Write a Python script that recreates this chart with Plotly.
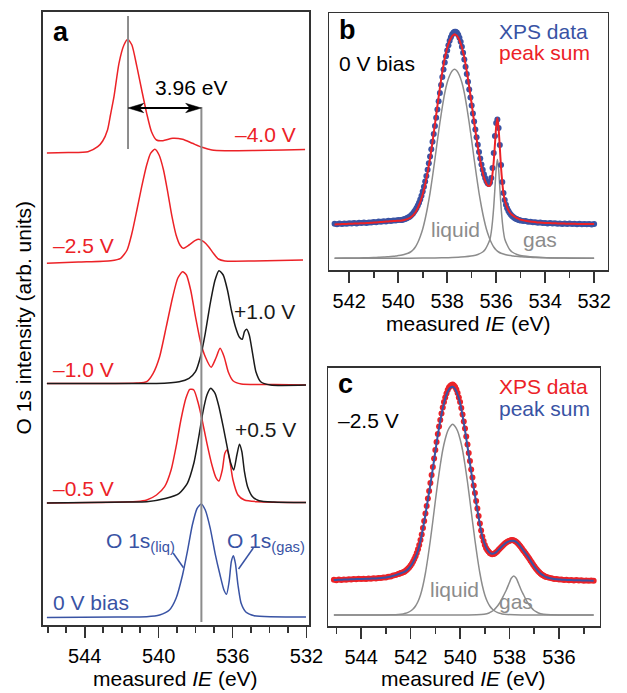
import numpy as np
import plotly.graph_objects as go

W, H = 627, 693
FONT = "Liberation Sans, Arial, sans-serif"
RED = "#ec2227"
BLUE = "#3953a4"
BLACK = "#1a1a1a"
GRAY = "#8c8c8c"
AXC = "#333333"

# ---------------- Panel a : stacked O 1s spectra (intensity above own baseline) -------------
a_labels = ["\u20134.0 V", "\u20132.5 V", "\u20131.0 V", "+1.0 V", "\u20130.5 V", "+0.5 V", "0 V bias"]
a_offsets = [474, 363, 241, 241, 122.5, 122.5, 8]

E_m40 = [546.05, 544.90, 543.83, 543.30, 543.03, 542.77, 542.61, 542.42, 542.15, 541.88, 541.67, 541.45,
         541.18, 540.92, 540.65, 540.39, 540.12, 539.77, 539.24, 538.71, 538.18, 537.65, 537.12, 536.42,
         534.83, 533.24, 532.08]
I_m40 = [-2, -1.5, -0.7, 4.3, 10, 21, 36, 54.3, 87.7, 106, 111.7, 106, 84.3, 61, 37.7, 19.3, 11, 10.3,
         12.7, 11.7, 7.7, 3.7, 1, 0.3, 0.5, 1, 1.5]

E_m25 = [546.05, 544.35, 542.59, 542.06, 541.71, 541.45, 541.18, 540.92, 540.65, 540.44, 540.21, 539.98,
         539.74, 539.50, 539.28, 539.06, 538.85, 538.68, 538.36, 538.04, 537.83, 537.57, 537.30, 537.04,
         536.77, 536.42, 534.83, 532.19]
I_m25 = [-1.3, 0, 1.3, 3.7, 12, 28.7, 52, 75.3, 97, 108.7, 112.7, 107, 92, 68.7, 45.3, 27, 17, 13.7, 17,
         21.3, 22.7, 20.3, 15.3, 8.7, 3, 1, 1, 2]

E_m10 = [546.05, 543.30, 541.18, 540.65, 540.30, 539.95, 539.59, 539.24, 538.97, 538.71, 538.50, 538.27,
         538.01, 537.74, 537.48, 537.16, 536.91, 536.68, 536.46, 536.24, 535.98, 535.53, 533.77, 532.03]
I_m10 = [0.5, 0.5, 1, 2.3, 10.7, 27.3, 57.3, 87.3, 105.7, 112.3, 109, 94, 67.3, 42.3, 27.3, 16.7, 25.7,
         35.7, 27.3, 12.3, 3.3, 0, -0.5, -1]

E_p10 = [546.05, 542.24, 540.12, 538.89, 538.36, 538.01, 537.74, 537.48, 537.21, 536.95, 536.74, 536.51,
         536.28, 536.07, 535.85, 535.63, 535.48, 535.36, 535.24, 535.10, 534.92, 534.74, 534.48, 533.95,
         532.03]
I_p10 = [0.5, 0.5, 0.5, 2.3, 5.7, 12.3, 27.3, 50.7, 80.7, 104, 113.3, 109, 94, 74, 57.3, 46.7, 44.7, 52.3,
         54.7, 49, 30.7, 12.3, 2.3, -1, -1]

E_m05 = [546.05, 543.30, 541.18, 540.65, 540.12, 539.68, 539.33, 539.06, 538.80, 538.53, 538.32, 538.10,
         537.86, 537.65, 537.39, 537.12, 536.91, 536.74, 536.56, 536.42, 536.30, 536.16, 535.98, 535.71,
         535.36, 534.66, 532.03]
I_m05 = [-0.5, 0, 1, 2.5, 7.5, 15.8, 32.5, 55.8, 82.5, 104.2, 113.2, 112.5, 99.2, 82.5, 59.2, 37.5, 25.2,
         21.5, 32.5, 49.2, 52.5, 42.5, 22.5, 7.5, 2.5, 0.8, 0]

E_p05 = [546.05, 541.71, 540.65, 539.59, 538.89, 538.45, 538.10, 537.83, 537.62, 537.39, 537.18, 536.95,
         536.74, 536.51, 536.28, 536.10, 535.94, 535.77, 535.63, 535.50, 535.36, 535.19, 534.92, 534.57,
         533.77, 532.03]
I_p05 = [-0.5, 0.5, 0.8, 4.2, 9.2, 19.2, 39.2, 65.8, 89.2, 107.5, 114.2, 109.2, 95.8, 75.8, 54.2, 39.2,
         32.5, 47.5, 58.2, 50.8, 30.8, 15.8, 5.8, 1.8, 0.5, 0]

E_0 = [546.05, 542.24, 540.65, 539.95, 539.42, 539.06, 538.71, 538.45, 538.18, 537.92, 537.70, 537.48,
       537.21, 536.95, 536.68, 536.47, 536.33, 536.19, 536.07, 535.96, 535.85, 535.71, 535.54, 535.27,
       534.83, 532.03]
I_0 = [-0.5, 0, 0.3, 2, 7, 18.7, 42, 65.3, 92, 108.7, 113, 107, 88.7, 63.7, 42, 27, 22.7, 35.3, 55.3,
       61.3, 53.7, 32, 13.7, 4.7, 1.3, 0]

a_E = [E_m40, E_m25, E_m10, E_p10, E_m05, E_p05, E_0]
a_I = [I_m40, I_m25, I_m10, I_p10, I_m05, I_p05, I_0]
a_colors = [RED, RED, RED, BLACK, RED, BLACK, BLUE]

liq_peak_m40 = 541.66   # liquid peak at -4.0 V
liq_peak_0 = 537.69     # liquid peak at 0 V
shift_label = "3.96 eV"

# ---------------- Panel b : 0 V bias fit ----------------
b_data_left = [46.3, 45.8, 46.4, 46.0, 46.5, 46.2, 46.8, 46.4, 46.9, 46.6, 47.2, 46.9, 47.4, 47.1, 47.6,
               47.4, 48.0, 47.8, 48.4, 48.3, 48.8, 48.6, 49.2, 49.1, 49.6, 49.5, 50.0, 50.1]
b_data_mid = [50.0, 50.4, 50.8, 51.3, 51.8, 52.4, 53.1, 54.0, 55.2, 56.6, 58.2, 60.0, 62.0, 64.5, 67.3, 70.5, 74.2, 78.5,
              83.2, 88.5, 94.0, 100.3, 106.8, 113.5, 120.8, 128.3, 136.0, 144.0, 152.2, 160.5, 168.8, 177.0, 185.0, 193.0, 200.5, 207.5, 213.8, 219.5,
              224.8, 229.3, 232.8, 235.5, 237.3, 238.3, 238.3, 237.3, 235.3, 232.3, 228.3, 223.3, 217.3, 210.5, 203.3, 196.0, 188.3, 180.5, 172.5, 164.5,
              156.5, 148.5, 140.5, 132.8, 125.3, 118.0, 111.5, 105.5, 100.3, 95.8, 92.0, 89.0, 86.8, 86.0, 87.5, 92.0, 102.0, 117.0, 134.0, 147.0,
              150.5, 142.0, 125.0, 105.0, 88.0, 77.0, 70.0, 65.3, 61.8, 59.0, 57.0, 55.3, 54.0, 52.9, 52.0, 51.3, 50.7, 50.2, 49.8]
b_data_right = [49.6, 49.0, 48.9, 48.3, 48.3, 47.7, 47.8, 47.2, 47.4, 46.9, 47.1, 46.6, 46.9, 46.4, 46.7,
                46.2, 46.6, 46.1, 46.5, 46.0, 46.4, 45.9, 46.3, 45.8, 46.2, 45.7, 46.1, 45.7, 46.0, 45.6, 45.9]

b_sum_left = [45.6, 45.7, 45.8, 45.9, 46.0, 46.1, 46.2, 46.3, 46.4, 46.5, 46.6, 46.7, 46.8, 46.9, 47.0,
              47.2, 47.4, 47.6, 47.8, 48.0, 48.2, 48.4, 48.6, 48.8, 49.0, 49.1, 49.2, 49.3]
b_sum_mid = [49.45, 49.7, 50.05, 50.4, 50.8, 51.2, 51.8, 52.4, 53.4, 54.5, 56.0, 57.5, 59.7, 62.0, 65.0, 68.0, 71.7, 75.5,
             80.5, 85.5, 91.5, 97.6, 104.6, 111.6, 119.8, 128.1, 136.9, 145.7, 155.0, 164.2, 173.0, 181.7, 189.8, 197.8, 204.8, 211.8, 217.0, 222.3,
             225.8, 229.3, 231.6, 233.9, 235.0, 235.7, 235.2, 234.1, 232.2, 229.7, 226.3, 222.8, 217.7, 212.5, 205.6, 198.7, 190.9, 183.0, 174.5, 166.0,
             157.0, 148.0, 139.5, 131.1, 123.5, 115.9, 109.3, 103.0, 97.8, 92.8, 89.3, 86.2, 84.5, 84.0, 84.5, 88.0, 96.1, 108.5, 125.9, 143.5,
             152.1, 141.5, 121.9, 102.3, 87.4, 76.5, 70.0, 65.8, 62.5, 59.6, 57.7, 56.1, 55.1, 54.2, 53.3, 52.5, 51.9, 51.3, 50.8]
b_sum_right = [50.4, 49.8, 49.2, 48.8, 48.5, 48.2, 47.9, 47.6, 47.4, 47.2, 47.1, 47.0, 46.9, 46.8, 46.7,
               46.6, 46.5, 46.4, 46.4, 46.3, 46.3, 46.2, 46.2, 46.1, 46.1, 46.0, 46.0, 46.0, 45.9, 45.9, 45.9]

b_liq_E = [542.6, 542.2, 541.8, 541.4, 541.0, 540.8, 540.6, 540.4, 540.2,
           540.1, 540.0, 539.9, 539.8, 539.7, 539.6, 539.5, 539.4, 539.3, 539.2, 539.1, 539.0, 538.9, 538.8,
           538.7, 538.6, 538.5, 538.4, 538.3, 538.2, 538.1, 538.0, 537.9, 537.8, 537.7, 537.6, 537.5, 537.4,
           537.3, 537.2, 537.1, 537.0, 536.9, 536.8, 536.7, 536.6, 536.5, 536.4, 536.3, 536.2, 536.1, 536.0,
           535.9, 535.8, 535.7, 535.6, 535.5, 535.4, 535.3, 535.2,
           535.0, 534.8, 534.6, 534.4, 534.0, 533.6, 533.2, 532.8, 532.0]
b_liq_I = [11.8, 11.9, 12.0, 12.2, 12.5, 12.7, 12.9, 13.3, 13.7,
           14.0, 14.4, 14.8, 15.3, 16.0, 16.8, 18.0, 20.0, 23.0, 27.5, 33.5, 41.0, 51.0, 63.0,
           77.0, 93.5, 111.0, 129.5, 147.0, 163.0, 177.0, 187.5, 194.5, 199.0, 200.7, 199.0, 194.5, 187.5,
           177.0, 163.0, 147.0, 129.5, 111.0, 93.5, 77.0, 63.0, 51.0, 41.0, 33.5, 27.5, 23.0, 20.0,
           18.0, 16.8, 16.0, 15.3, 14.8, 14.4, 14.0, 13.7,
           13.3, 12.9, 12.7, 12.5, 12.2, 12.0, 11.9, 11.8, 11.8]
b_gas_E = [542.6, 540.0, 539.0, 538.5, 537.95, 537.45, 536.95, 536.75, 536.55, 536.45, 536.35, 536.25,
           536.2, 536.15, 536.1, 536.05, 536.0, 535.95, 535.9, 535.85, 535.8, 535.75, 535.7, 535.65,
           535.55, 535.45, 535.35, 535.15, 534.95, 534.45, 533.95, 533.0, 532.0]
b_gas_I = [11.7, 11.8, 11.9, 12.0, 12.3, 12.9, 14.2, 15.5, 18.0, 20.5, 25.0, 31.0, 38.0, 48.5, 63.0, 82.0,
           101.0, 110.7, 101.0, 82.0, 63.0, 48.5, 38.0, 31.0, 25.0, 20.5, 18.0, 15.5, 14.2, 12.9, 12.3,
           11.9, 11.7]

# ---------------- Panel c : -2.5 V fit ----------------
c_data_left = [46.2, 45.8, 46.4, 46.1, 46.6, 46.3, 46.8, 46.5, 47.0, 46.7, 47.2, 46.9, 47.3, 47.0, 47.5,
               47.2, 47.7, 47.4, 48.0, 47.9, 48.5, 48.4, 49.2, 49.4, 50.4, 50.9, 52.0]
c_data_mid = [52.3, 52.9, 53.2, 53.8, 54.2, 55.2, 56.2, 57.5, 58.8, 60.5,
              62.3, 64.5, 67.0, 69.8, 73.0, 76.8, 81.0, 86.0, 91.5, 98.0, 105.0, 112.5, 120.0, 127.5, 135.0, 143.0, 151.0, 159.0, 167.5, 176.0,
              184.0, 192.0, 199.5, 206.0, 212.5, 218.5, 224.0, 228.5, 232.5, 236.0, 238.5, 240.0, 241.0, 241.5, 240.5, 239.0, 236.5, 233.0, 228.5, 224.0,
              218.0, 211.5, 204.5, 197.5, 189.5, 181.5, 173.0, 165.0, 156.5, 148.5, 140.5, 133.0, 125.0, 117.5, 110.0, 102.5, 95.5, 89.5, 85.0, 81.0,
              78.0, 76.0, 74.5, 73.0, 72.2, 71.8, 72.0, 72.6, 73.5, 74.6, 76.0, 77.3, 78.5, 79.8, 81.0, 82.2, 83.2, 84.0, 84.8, 85.3,
              85.8, 86.0, 85.8, 85.3, 84.5, 83.5, 82.2, 80.8, 79.2, 77.5, 75.8, 74.2, 72.5, 70.8, 69.0, 67.2, 65.3, 63.5, 61.6, 59.8,
              58.0, 56.5, 55.0, 53.8, 52.6, 51.6, 50.7, 50.0, 49.3]
c_data_right = [48.9, 48.2, 47.7, 47.0, 46.9, 46.4, 46.5, 46.0, 46.3, 45.8, 46.0, 45.6, 45.9, 45.4, 45.7,
                45.3, 45.6, 45.2, 45.5, 45.3]

c_sum = [46.0, 46.1, 46.2, 46.3, 46.4, 46.5, 46.6, 46.7, 46.8, 46.9, 47.0, 47.0, 47.1, 47.2, 47.3, 47.4,
         47.5, 47.6, 47.8, 48.0, 48.3, 48.6, 49.0, 49.5, 50.2, 51.0, 51.8, 52.7, 53.6, 54.8, 57.0, 59.8,
         63.8, 68.8, 75.5, 85.0, 97.5, 111.5, 126.5, 141.5, 157.5, 174.5, 191.0, 205.0, 217.5, 227.5,
         234.5, 238.3, 239.3, 237.0, 231.5, 223.0, 210.5, 195.5, 179.5, 162.5, 146.0, 131.0, 116.0, 101.5,
         89.5, 81.5, 76.3, 73.3, 72.2, 72.8, 74.8, 77.3, 79.7, 82.0, 83.8, 84.9, 85.3, 85.0, 83.5, 80.8,
         77.5, 74.2, 70.8, 67.2, 63.3, 59.7, 56.5, 53.8, 51.6, 50.0, 48.8, 48.0, 47.4, 47.0, 46.7, 46.5,
         46.35, 46.2, 46.1, 46.0, 45.9, 45.8, 45.75, 45.7, 45.6, 45.5, 45.45, 45.4, 45.35, 45.3]

c_liq_E = [545.1, 543.3, 542.8, 542.5,
           542.3, 542.2, 542.1, 542.0, 541.9, 541.8, 541.7, 541.6, 541.5, 541.4, 541.3, 541.2, 541.1, 541.0,
           540.9, 540.8, 540.7, 540.6, 540.5, 540.4, 540.3, 540.2, 540.1, 540.0, 539.9, 539.8, 539.7, 539.6,
           539.5, 539.4, 539.3, 539.2, 539.1, 539.0, 538.9, 538.8, 538.7, 538.6, 538.5, 538.4, 538.3,
           538.1, 537.8, 537.3, 534.6]
c_liq_I = [11.0, 11.0, 11.2, 11.5,
           12.1, 12.7, 13.6, 15.0, 17.0, 20.0, 24.5, 31.0, 40.5, 53.0, 68.5, 86.0, 105.0, 125.0,
           144.0, 161.0, 176.0, 187.0, 195.0, 199.5, 201.7, 199.5, 195.0, 187.0, 176.0, 161.0, 144.0, 125.0,
           105.0, 86.0, 68.5, 53.0, 40.5, 31.0, 24.5, 20.0, 17.0, 15.0, 13.6, 12.7, 12.1,
           11.5, 11.2, 11.0, 11.0]
c_gas_E = [545.1, 539.83, 539.33, 539.03, 538.83, 538.73, 538.63, 538.53, 538.43, 538.33, 538.23, 538.13,
           538.03, 537.93, 537.83, 537.73, 537.63, 537.53, 537.43, 537.33, 537.23, 537.13, 537.03, 536.93,
           536.83, 536.63, 536.33, 535.83, 534.6]
c_gas_I = [11.0, 11.0, 11.2, 11.8, 13.0, 14.3, 16.0, 18.7, 22.0, 26.0, 31.0, 36.0, 42.0, 47.8, 50.0, 47.8,
           42.0, 36.0, 31.0, 26.0, 22.0, 18.7, 16.0, 14.3, 13.0, 11.8, 11.2, 11.0, 11.0]

# energy grids of the measured points
b_E = np.concatenate([np.linspace(542.6, 539.9, len(b_data_left)),
                      np.linspace(539.85, 535.05, len(b_data_mid)),
                      np.linspace(535.0, 532.0, len(b_data_right))])
c_E = np.concatenate([np.linspace(545.1, 542.5, len(c_data_left)),
                      np.linspace(542.45, 536.55, len(c_data_mid)),
                      np.linspace(536.5, 534.6, len(c_data_right))])
c_sum_E = np.linspace(545.1, 534.6, len(c_sum))
b_data = b_data_left + b_data_mid + b_data_right
b_sum = b_sum_left + b_sum_mid + b_sum_right
c_data = c_data_left + c_data_mid + c_data_right


def px_x(px):
    return px / W


def px_y(py):
    return 1 - py / H


fig = go.Figure()

# panel a curves
for E, I, off, col in zip(a_E, a_I, a_offsets, a_colors):
    fig.add_trace(go.Scatter(x=E, y=[v + off for v in I], mode="lines",
                             line=dict(color=col, width=1.5, shape="spline", smoothing=0.6),
                             xaxis="x", yaxis="y", hoverinfo="skip"))

# panel b
fig.add_trace(go.Scatter(x=b_liq_E, y=b_liq_I, mode="lines", line=dict(color=GRAY, width=1.5, shape="spline", smoothing=0.6),
                         xaxis="x2", yaxis="y2"))
fig.add_trace(go.Scatter(x=b_gas_E, y=b_gas_I, mode="lines", line=dict(color=GRAY, width=1.5, shape="spline", smoothing=0.6),
                         xaxis="x2", yaxis="y2"))
fig.add_trace(go.Scatter(x=b_E, y=b_data, mode="markers", marker=dict(color=BLUE, size=6, line=dict(width=0)),
                         xaxis="x2", yaxis="y2"))
fig.add_trace(go.Scatter(x=b_E, y=b_sum, mode="lines", line=dict(color=RED, width=2, shape="spline", smoothing=0.6),
                         xaxis="x2", yaxis="y2"))

# panel c
fig.add_trace(go.Scatter(x=c_liq_E, y=c_liq_I, mode="lines", line=dict(color=GRAY, width=1.5, shape="spline", smoothing=0.6),
                         xaxis="x3", yaxis="y3"))
fig.add_trace(go.Scatter(x=c_gas_E, y=c_gas_I, mode="lines", line=dict(color=GRAY, width=1.5, shape="spline", smoothing=0.6),
                         xaxis="x3", yaxis="y3"))
fig.add_trace(go.Scatter(x=c_E, y=c_data, mode="markers", marker=dict(color=RED, size=6, line=dict(width=0)),
                         xaxis="x3", yaxis="y3"))
fig.add_trace(go.Scatter(x=c_sum_E, y=c_sum, mode="lines", line=dict(color=BLUE, width=2, shape="spline", smoothing=0.6),
                         xaxis="x3", yaxis="y3"))

tickfont = dict(family=FONT, size=20, color="black")
box = dict(showline=True, mirror=True, linecolor=AXC, linewidth=1.6, showgrid=False, zeroline=False)


def xax(domain, rng, tick0, dtick, anchor):
    return dict(domain=domain, range=rng, anchor=anchor, tickmode="linear", tick0=tick0, dtick=dtick,
                ticks="outside", ticklen=11, tickwidth=1.6, tickcolor=AXC, tickfont=tickfont,
                ticklabelstandoff=1,
                minor=dict(tickmode="linear", tick0=tick0, dtick=1, ticks="outside", ticklen=6,
                           tickwidth=1.6, tickcolor=AXC, showgrid=False),
                **box)


def yax(domain, rng, anchor):
    return dict(domain=domain, range=rng, anchor=anchor, showticklabels=False, ticks="", **box)


fig.update_layout(
    width=W, height=H, margin=dict(l=0, r=0, t=0, b=0),
    paper_bgcolor="white", plot_bgcolor="white", showlegend=False,
    font=dict(family=FONT, size=21, color="black"),
    xaxis=xax([px_x(44), px_x(316)], [546.26, 531.87], 532, 4, "y"),
    yaxis=yax([px_y(625), px_y(12)], [0, 613], "x"),
    xaxis2=xax([px_x(336.7), px_x(621.7)], [542.82, 531.44], 532, 2, "y2"),
    yaxis2=yax([px_y(270), px_y(13.3)], [0, 256.7], "x2"),
    xaxis3=xax([px_x(335.7), px_x(613.3)], [545.33, 534.36], 536, 2, "y3"),
    yaxis3=yax([px_y(626), px_y(367.7)], [0, 258.3], "x3"),
)

# arrow between the two liquid peaks (line + notched heads)
arrow_y = 517
head_len = 0.85   # eV
head_notch = 0.62
head_half = 4.7   # y units (px)


def head(tip, direction):
    b = tip - direction * head_len
    n = tip - direction * head_notch
    return dict(type="path", xref="x", yref="y",
                path="M %f,%f L %f,%f L %f,%f L %f,%f Z" % (tip, arrow_y, b, arrow_y + head_half,
                                                            n, arrow_y, b, arrow_y - head_half),
                fillcolor="black", line=dict(color="black", width=0.5))


shapes = [
    dict(type="line", xref="x", yref="y", x0=liq_peak_m40, x1=liq_peak_m40, y0=476, y1=609,
         line=dict(color=GRAY, width=2)),
    dict(type="line", xref="x", yref="y", x0=liq_peak_0, x1=liq_peak_0, y0=3, y1=518,
         line=dict(color=GRAY, width=2)),
    dict(type="line", xref="x", yref="y", x0=liq_peak_m40 - 0.5, x1=liq_peak_0 + 0.5, y0=arrow_y, y1=arrow_y,
         line=dict(color="black", width=2)),
    head(liq_peak_m40, +1),
    head(liq_peak_0, -1),
    dict(type="line", xref="x", yref="y", x0=539.22, x1=538.66, y0=72, y1=57.3,
         line=dict(color=BLUE, width=1.5)),
    dict(type="line", xref="x", yref="y", x0=534.88, x1=535.68, y0=77, y1=56,
         line=dict(color=BLUE, width=1.5)),
]
fig.update_layout(shapes=shapes)


def txt(x, y, s, xref, yref, color="black", size=21, xanchor="left", bold=False):
    return dict(x=x, y=y, xref=xref, yref=yref, text=("<b>%s</b>" % s) if bold else s, showarrow=False,
                xanchor=xanchor, yanchor="middle", font=dict(family=FONT, size=size, color=color))


ann = []
# panel a texts
ann += [
    txt(545.85, 593.4, "a", "x", "y", size=27, bold=True),
    txt(538.27, 537.4, shift_label, "x", "y", xanchor="center"),
    txt(532.45, 490.7, a_labels[0], "x", "y", color=RED, xanchor="right"),
    txt(545.84, 379, a_labels[1], "x", "y", color=RED),
    txt(545.84, 255.7, a_labels[2], "x", "y", color=RED),
    txt(532.54, 314, a_labels[3], "x", "y", color=BLACK, xanchor="right"),
    txt(545.84, 136.7, a_labels[4], "x", "y", color=RED),
    txt(532.45, 195.6, a_labels[5], "x", "y", color=BLACK, xanchor="right"),
    txt(545.84, 22.4, a_labels[6], "x", "y", color=BLUE),
    txt(542.94, 83, "O 1s<sub>(liq)</sub>", "x", "y", color=BLUE),
    txt(536.42, 83, "O 1s<sub>(gas)</sub>", "x", "y", color=BLUE),
]
# panel b texts
ann += [
    txt(542.49, 239.8, "b", "x2", "y2", size=27, bold=True),
    txt(542.52, 206.7, "0 V bias", "x2", "y2"),
    txt(532.17, 239, "XPS data", "x2", "y2", color=BLUE, xanchor="right"),
    txt(532.10, 217.3, "peak sum", "x2", "y2", color=RED, xanchor="right"),
    txt(537.66, 40.7, "liquid", "x2", "y2", color=GRAY, xanchor="center"),
    txt(534.23, 30.7, "gas", "x2", "y2", color=GRAY, xanchor="center"),
]
# panel c texts
ann += [
    txt(545.03, 241.8, "c", "x3", "y3", size=27, bold=True),
    txt(545.03, 206, "\u20132.5 V", "x3", "y3"),
    txt(534.75, 240, "XPS data", "x3", "y3", color=RED, xanchor="right"),
    txt(534.68, 217.3, "peak sum", "x3", "y3", color=BLUE, xanchor="right"),
    txt(540.22, 36.7, "liquid", "x3", "y3", color=GRAY, xanchor="center"),
    txt(537.75, 25, "gas", "x3", "y3", color=GRAY, xanchor="center"),
]
# axis titles
ann += [
    txt(px_x(180), px_y(678), "measured <i>IE</i> (eV)", "paper", "paper", xanchor="center"),
    txt(px_x(479), px_y(323.5), "measured <i>IE</i> (eV)", "paper", "paper", xanchor="center"),
    txt(px_x(474.5), px_y(678.5), "measured <i>IE</i> (eV)", "paper", "paper", xanchor="center"),
    dict(x=px_x(24), y=px_y(318), xref="paper", yref="paper", text="O 1s intensity (arb. units)",
         textangle=-90, showarrow=False, xanchor="center", yanchor="middle",
         font=dict(family=FONT, size=21, color="black")),
]
fig.update_layout(annotations=ann)

fig.write_html("out.html", config={"displayModeBar": False, "staticPlot": True},
               post_script="document.body.style.margin='0';document.body.style.padding='0';"
                           "document.documentElement.style.overflow='hidden';")
